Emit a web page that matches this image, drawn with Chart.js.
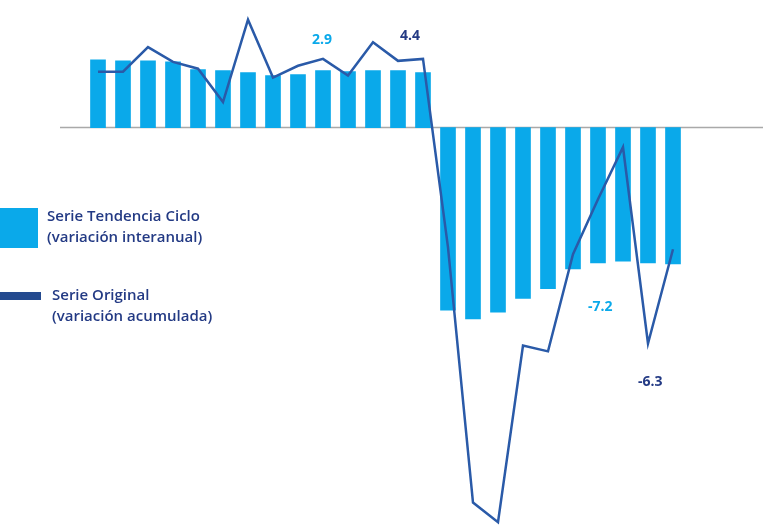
<!DOCTYPE html>
<html>
<head>
<meta charset="utf-8">
<script src="https://cdn.jsdelivr.net/npm/chart.js@4"></script>
<style>
  html, body { margin: 0; padding: 0; background: #fff; }
  #wrap { position: relative; width: 763px; height: 530px; font-family: "Open Sans", sans-serif; }
  canvas { position: absolute; left: 0; top: 0; }
  .lbl { position: absolute; font-weight: 700; font-size: 14px; }
  .legend-text { position: absolute; color: #233a84; font-size: 15px; font-weight: 600; line-height: 21px; }
</style>
</head>
<body>
<div id="wrap">
  <canvas id="chart" width="763" height="530"></canvas>
  <div style="position:absolute;left:0;top:208px;width:38px;height:40px;background:#0aa9ea"></div>
  <div class="legend-text" style="left:47px;top:205px">Serie Tendencia Ciclo<br>(variación interanual)</div>
  <div style="position:absolute;left:0;top:292px;width:41px;height:8px;background:#244a8f"></div>
  <div class="legend-text" style="left:52px;top:284px">Serie Original<br>(variación acumulada)</div>
  <div class="lbl" style="left:312px;top:29px;color:#0aa9ea">2.9</div>
  <div class="lbl" style="left:400px;top:25px;color:#233a84">4.4</div>
  <div class="lbl" style="left:588px;top:296px;color:#0aa9ea">-7.2</div>
  <div class="lbl" style="left:638px;top:371px;color:#233a84">-6.3</div>
</div>
<script>
  const categories = Array.from({ length: 24 }, (_, i) => "P" + (i + 1));
  const trendCycle = [3.45, 3.4, 3.4, 3.35, 2.95, 2.9, 2.8, 2.65, 2.7, 2.9, 2.85, 2.9, 2.9, 2.8,
    -9.3, -9.75, -9.4, -8.7, -8.2, -7.2, -6.9, -6.8, -6.9, -6.95];
  const original = [2.85, 2.85, 4.1, 3.35, 3.0, 1.3, 5.5, 2.55, 3.15, 3.5, 2.65, 4.35, 3.4, 3.5,
    -6.1, -19.1, -20.1, -11.1, -11.4, -6.45, -3.65, -1.0, -11.0, -6.2];

  const zeroLine = {
    id: "zeroLine",
    beforeDatasetsDraw(chart) {
      const y = chart.scales.y.getPixelForValue(0);
      const ctx = chart.ctx;
      ctx.save();
      ctx.strokeStyle = "#a9a9a9";
      ctx.lineWidth = 1.5;
      ctx.beginPath();
      ctx.moveTo(60, y);
      ctx.lineTo(chart.width, y);
      ctx.stroke();
      ctx.restore();
    }
  };

  new Chart(document.getElementById("chart"), {
    type: "bar",
    data: {
      labels: categories,
      datasets: [
        {
          type: "line",
          label: "Serie Original",
          data: original,
          borderColor: "#2a5aa8",
          borderWidth: 2.5,
          pointRadius: 0,
          tension: 0,
          order: 0
        },
        {
          label: "Serie Tendencia Ciclo",
          data: trendCycle,
          backgroundColor: "#0aa9ea",
          barThickness: 15,
          order: 1
        }
      ]
    },
    options: {
      responsive: false,
      animation: false,
      layout: { padding: { left: 85.5, right: 77.5, top: 0, bottom: 0 } },
      plugins: { legend: { display: false }, tooltip: { enabled: false } },
      scales: {
        x: { display: false, offset: true },
        y: { display: false, min: -20.5, max: 6.5 }
      }
    },
    plugins: [zeroLine]
  });
</script>
</body>
</html>
